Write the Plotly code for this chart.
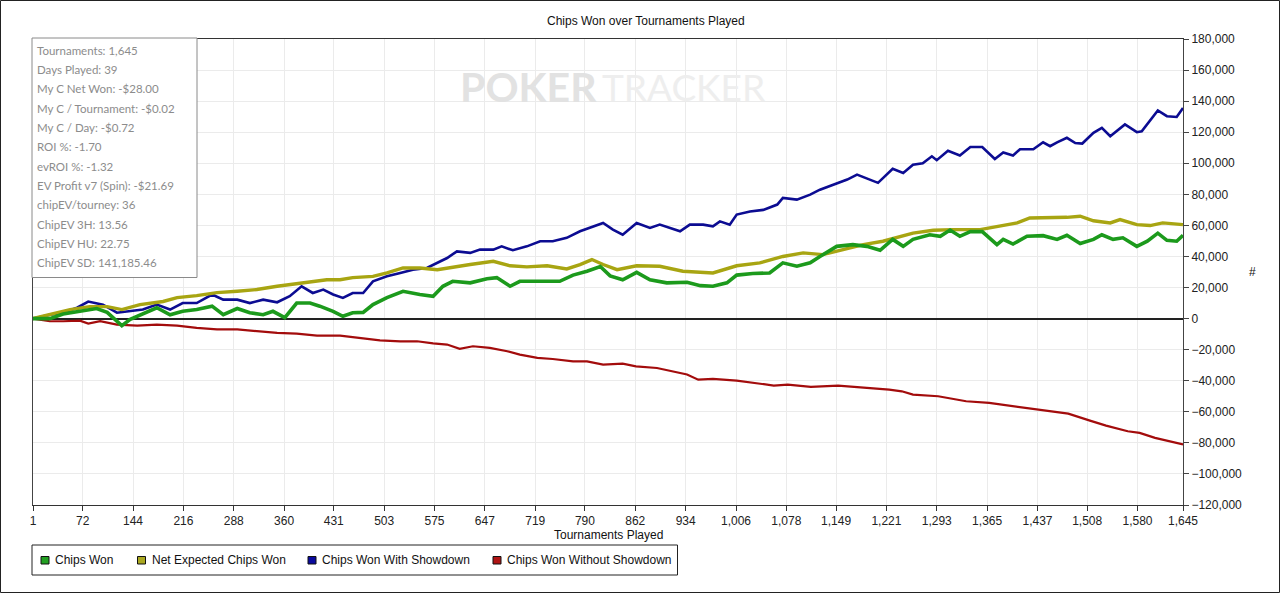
import plotly.graph_objects as go

# ---------------- data ----------------
x_ticks = [1, 72, 144, 216, 288, 360, 431, 503, 575, 647, 719, 790, 862, 934,
           1006, 1078, 1149, 1221, 1293, 1365, 1437, 1508, 1580, 1645]

green_t = [1, 25, 44, 68, 92, 107, 128, 140, 154, 178, 197, 215, 235, 257, 273, 293, 311, 330, 344, 361,
           378, 397, 411, 430, 444, 458, 473, 487, 507, 530, 554, 573, 587, 601, 626, 650, 664, 683, 697,
           726, 754, 773, 793, 812, 826, 844, 864, 883, 907, 936, 955, 973, 993, 1007, 1030, 1054, 1073,
           1093, 1112, 1126, 1150, 1173, 1193, 1212, 1230, 1245, 1259, 1283, 1298, 1312, 1326, 1341, 1358,
           1379, 1388, 1402, 1422, 1445, 1465, 1479, 1498, 1517, 1529, 1545, 1559, 1579, 1594, 1609, 1622,
           1636, 1645]
green_v = [0, 0, 3000, 5000, 6500, 4000, -4500, -500, 2500, 7000, 2500, 4700, 5800, 8000, 2500, 6500, 3800,
           2500, 4700, 600, 10000, 10000, 8000, 4700, 1500, 3800, 4000, 9000, 13500, 17600, 15500, 14400,
           20800, 24000, 23000, 25700, 26400, 20800, 24000, 24000, 24000, 28000, 30500, 33500, 27500, 25000,
           29800, 25000, 23000, 23400, 21200, 20800, 23000, 28000, 29000, 29400, 35900, 33700, 35900, 40000,
           46500, 47600, 46500, 44000, 51000, 46500, 51000, 54000, 53000, 57000, 53000, 56000, 56000, 47600,
           51000, 48000, 53000, 53400, 51000, 53600, 48300, 51000, 54000, 51000, 52000, 46500, 49800, 55000,
           50400, 49800, 53600]

yellow_t = [1, 25, 54, 82, 107, 128, 154, 187, 207, 235, 264, 293, 321, 350, 378, 401, 421, 440, 458, 487,
            507, 530, 554, 579, 601, 626, 659, 683, 707, 736, 764, 783, 800, 816, 836, 864, 897, 930, 973,
            1007, 1040, 1073, 1102, 1130, 1159, 1188, 1216, 1236, 1259, 1288, 1316, 1355, 1383, 1408, 1426,
            1455, 1479, 1498, 1517, 1541, 1555, 1579, 1598, 1616, 1645]
yellow_v = [0, 2500, 5800, 7700, 7700, 5800, 9000, 11000, 13500, 14800, 16700, 17600, 18700, 20800, 22500,
            24000, 25000, 25000, 26400, 27200, 29400, 32600, 32600, 31500, 33300, 34800, 36900, 34000, 33300,
            34000, 32000, 34800, 38000, 34800, 31500, 34000, 33700, 30500, 29400, 34000, 35900, 40000, 42300,
            41200, 44400, 47600, 49800, 52000, 55000, 56900, 57300, 57300, 59400, 61600, 64800, 64800, 65200,
            65900, 63000, 61600, 63700, 60500, 59900, 61600, 60500]

blue_t = [1, 25, 44, 64, 80, 101, 121, 140, 158, 178, 197, 215, 235, 257, 273, 293, 311, 330, 350, 368, 385,
          401, 416, 430, 444, 458, 473, 487, 507, 526, 544, 564, 579, 593, 607, 626, 640, 659, 671, 687, 707,
          726, 744, 764, 783, 797, 816, 830, 844, 864, 883, 897, 912, 926, 940, 959, 973, 983, 997, 1007,
          1026, 1045, 1065, 1073, 1093, 1112, 1126, 1145, 1165, 1179, 1198, 1209, 1230, 1245, 1259, 1273,
          1286, 1293, 1309, 1326, 1341, 1358, 1376, 1388, 1402, 1412, 1431, 1445, 1455, 1465, 1479, 1491,
          1501, 1517, 1529, 1541, 1562, 1579, 1586, 1609, 1622, 1636, 1645]
blue_v = [0, 2500, 3800, 7000, 11000, 9000, 3800, 4700, 5800, 9000, 5800, 10000, 10000, 15500, 12200, 12200,
          10000, 12200, 10500, 14400, 20800, 16500, 18700, 15500, 13300, 16500, 16500, 24000, 27200, 29400,
          31500, 32600, 35900, 39000, 43300, 42300, 44400, 44400, 46500, 44000, 46500, 49800, 49800, 52000,
          56200, 58400, 61600, 57300, 54000, 61600, 58400, 60500, 58400, 56200, 60500, 60500, 59400, 62600,
          60500, 67000, 69000, 70000, 73400, 77700, 76600, 79800, 83000, 86000, 89500, 92700, 89500, 87400,
          96400, 93800, 99000, 100000, 104500, 102000, 108000, 105000, 110500, 110500, 102800, 107000,
          105000, 109000, 109000, 113500, 111000, 113500, 116400, 113000, 112700, 119600, 122800, 117400,
          125000, 120000, 120600, 134000, 130300, 129800, 135600]

red_t = [1, 25, 44, 68, 80, 97, 121, 150, 178, 207, 235, 264, 293, 321, 350, 378, 407, 440, 468, 497, 526,
         550, 573, 593, 611, 630, 654, 679, 697, 722, 744, 773, 793, 816, 844, 863, 893, 936, 952, 973, 1007,
         1037, 1060, 1080, 1113, 1152, 1189, 1225, 1243, 1259, 1295, 1335, 1368, 1405, 1441, 1481, 1512,
         1535, 1566, 1583, 1605, 1621, 1645]
red_v = [0, -1700, -1700, -1300, -3200, -1700, -3900, -4500, -3900, -4500, -6000, -7000, -7000, -8200, -9200,
         -9700, -11000, -11000, -12400, -14000, -14600, -14600, -16000, -16700, -19500, -17800, -18900,
         -21000, -23200, -25300, -26000, -27500, -27500, -29600, -29000, -30700, -31800, -36000, -39300,
         -38800, -39900, -41800, -43100, -42500, -44000, -43100, -44200, -45700, -46800, -48900, -50000,
         -53200, -54300, -56500, -59000, -61200, -65700, -68900, -72500, -73600, -76800, -78500, -81000]

series_names = ["Chips Won", "Net Expected Chips Won", "Chips Won With Showdown", "Chips Won Without Showdown"]

stats_lines = ["Tournaments: 1,645", "Days Played: 39", "My C Net Won: -$28.00", "My C / Tournament: -$0.02",
               "My C / Day: -$0.72", "ROI %: -1.70", "evROI %: -1.32", "EV Profit v7 (Spin): -$21.69",
               "chipEV/tourney: 36", "ChipEV 3H: 13.56", "ChipEV HU: 22.75", "ChipEV SD: 141,185.46"]

title_text = "Chips Won over Tournaments Played"
x_title = "Tournaments Played"
y_title = "#"

# ---------------- layout geometry ----------------
W, H = 1280, 593
L, R, T, B = 33, 1183, 39, 505


def px(x):
    return (x - L) / (R - L)


def py(y):
    return (B - y) / (B - T)


colors = {"green": "#1c9a1c", "yellow": "#a8a512", "blue": "#0c0c92", "red": "#a30c0c"}
legend_colors = ["#22a022", "#aaa820", "#0a0a9e", "#b01414"]

fig = go.Figure()
fig.add_trace(go.Scatter(x=red_t, y=red_v, mode="lines", name=series_names[3],
                         line=dict(color=colors["red"], width=2.2), showlegend=False))
fig.add_trace(go.Scatter(x=blue_t, y=blue_v, mode="lines", name=series_names[2],
                         line=dict(color=colors["blue"], width=2.6), showlegend=False))
fig.add_trace(go.Scatter(x=yellow_t, y=yellow_v, mode="lines", name=series_names[1],
                         line=dict(color=colors["yellow"], width=3.4), showlegend=False))
fig.add_trace(go.Scatter(x=green_t, y=green_v, mode="lines", name=series_names[0],
                         line=dict(color=colors["green"], width=3.6), showlegend=False))

font_main = "Liberation Sans, Arial, sans-serif"

fig.update_layout(
    width=W, height=H, autosize=False,
    margin=dict(l=L, r=W - R, t=T, b=H - B, pad=0),
    paper_bgcolor="white", plot_bgcolor="white",
    font=dict(family=font_main, size=12, color="#222"),
    showlegend=False,
    xaxis=dict(range=[1, 1645], tickvals=x_ticks, tickformat=",d", ticks="outside", ticklen=5,
               tickcolor="#333", showline=True, linecolor="#333", linewidth=1, mirror=True,
               showgrid=True, gridcolor="#ebebeb", gridwidth=1, zeroline=False,
               tickfont=dict(family=font_main, size=12, color="#222")),
    yaxis=dict(range=[-120000, 180000], dtick=20000, tickformat=",", side="right", ticks="outside",
               ticklen=5, tickcolor="#444", showline=True, linecolor="#444", linewidth=1, mirror=True,
               showgrid=True, gridcolor="#ebebeb", gridwidth=1, zeroline=True, zerolinecolor="#222",
               zerolinewidth=1.5, tickfont=dict(family=font_main, size=12, color="#222")),
)

shapes = []
annotations = []

# watermark
annotations.append(dict(xref="paper", yref="paper", x=px(598), y=py(87), text="<b>POKER</b>",
                        showarrow=False, font=dict(family="Lato, Roboto, sans-serif", size=41, color="#e2e2e2"),
                        xanchor="right", yanchor="middle", borderpad=0))
annotations.append(dict(xref="paper", yref="paper", x=px(601), y=py(87), text="TRACKER",
                        showarrow=False, font=dict(family="Lato, Roboto, sans-serif", size=37, color="#eeeeee"),
                        xanchor="left", yanchor="middle", borderpad=0))

# title
annotations.append(dict(xref="paper", yref="paper", x=px(646), y=py(21), text=title_text, showarrow=False,
                        font=dict(family=font_main, size=12, color="#111"), xanchor="center", yanchor="middle"))
# axis titles
annotations.append(dict(xref="paper", yref="paper", x=px(608), y=py(535), text=x_title, showarrow=False,
                        font=dict(family=font_main, size=12, color="#111"), xanchor="center", yanchor="middle"))
annotations.append(dict(xref="paper", yref="paper", x=px(1252), y=py(272), text=y_title, showarrow=False,
                        font=dict(family=font_main, size=12, color="#111"), xanchor="center", yanchor="middle"))

# stats box
shapes.append(dict(type="rect", xref="paper", yref="paper", x0=px(32), x1=px(197), y0=py(38), y1=py(277.5),
                   line=dict(color="#8a8a8a", width=1), fillcolor="white", layer="above"))
for i, s in enumerate(stats_lines):
    annotations.append(dict(xref="paper", yref="paper", x=px(35), y=py(50 + i * 19.35), text=s,
                            showarrow=False, xanchor="left", yanchor="middle",
                            font=dict(family="Lato, Noto Sans, sans-serif", size=11.5, color="#8c8c8c")))

# legend (manual)
shapes.append(dict(type="rect", xref="paper", yref="paper", x0=px(32), x1=px(677.5), y0=py(545), y1=py(575),
                   line=dict(color="#222", width=1), fillcolor="white", layer="above"))
legend_sq_x = [41, 137.5, 308, 493]
for i, name in enumerate(series_names):
    x0 = legend_sq_x[i]
    shapes.append(dict(type="rect", xref="paper", yref="paper", x0=px(x0), x1=px(x0 + 8), y0=py(556.5),
                       y1=py(564), line=dict(color="#111", width=1), fillcolor=legend_colors[i], layer="above"))
    annotations.append(dict(xref="paper", yref="paper", x=px(x0 + 12), y=py(560), text=name, showarrow=False,
                            xanchor="left", yanchor="middle", font=dict(family=font_main, size=12, color="#111")))

# outer border of the whole image
shapes.append(dict(type="rect", xref="paper", yref="paper", x0=px(0.5), x1=px(W - 0.5), y0=py(0.5),
                   y1=py(H - 0.5), line=dict(color="#222", width=1), fillcolor="rgba(0,0,0,0)", layer="above"))

fig.update_layout(shapes=shapes, annotations=annotations)
fig.write_html("out.html", config={"displayModeBar": False},
               post_script="document.body.style.margin='0';document.body.style.overflow='hidden';")
